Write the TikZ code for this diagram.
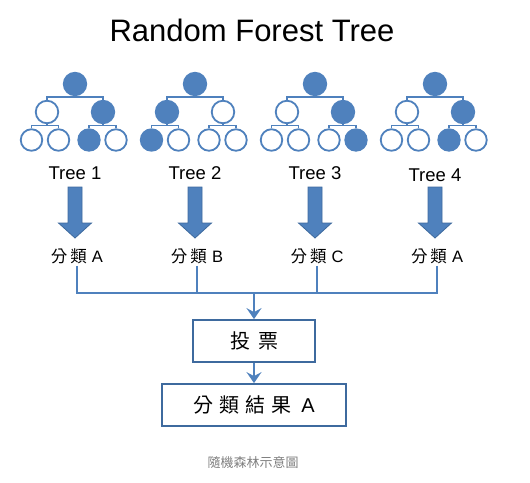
\documentclass[tikz,border=0pt]{standalone}
\usepackage{fontspec}
\setmainfont{Liberation Sans}
\newfontfamily\cjk{Noto Sans CJK TC}
\usetikzlibrary{arrows.meta}
\definecolor{ofblue}{HTML}{4F81BD}
\definecolor{ofdark}{HTML}{3E6A9E}
\definecolor{capgray}{HTML}{7F7F7F}
\tikzset{
  tnode/.style={circle, draw=ofblue, line width=1.8pt, inner sep=0pt, minimum size=21.5pt, fill=white},
  tfull/.style={tnode, fill=ofblue},
  tline/.style={draw=ofblue, line width=1.6pt},
  bigarrow/.style={fill=ofblue, draw=ofdark, line width=0.8pt, line join=miter},
  jline/.style={draw=ofblue, line width=2.6pt},
  jarrow/.style={jline, -{Stealth[length=11pt, width=15pt, inset=4pt]}},
  resbox/.style={draw=ofdark, line width=1.8pt, fill=white, inner sep=0pt},
  tlabel/.style={font=\fontsize{18.5}{20}\selectfont, inner sep=1pt},
  clabel/.style={font=\fontsize{16.5}{18}\selectfont, inner sep=1pt},
}
\begin{document}
\begin{tikzpicture}[x=1pt, y=-1pt]
\useasboundingbox (0,0) rectangle (530,482);
\node (title) at (252,30) {\fontsize{31}{34}\selectfont Random Forest Tree};
\foreach \i/\cx/\ty/\fa/\fb/\fc/\fd/\fe/\ff/\cl in {
  1/75/173/tnode/tfull/tnode/tnode/tfull/tnode/A,
  2/195/173/tfull/tnode/tfull/tnode/tnode/tnode/B,
  3/315/173/tnode/tfull/tnode/tnode/tnode/tfull/C,
  4/435/175/tnode/tfull/tnode/tnode/tfull/tnode/A}{
  \node[tfull, minimum size=22.5pt] (r\i) at (\cx,84) {};
  \node[\fa, minimum size=22.5pt] (a\i) at (\cx-28,112) {};
  \node[\fb, minimum size=22.5pt] (b\i) at (\cx+28,112) {};
  \node[\fc] (l\i) at (\cx-43.5,140) {};
  \node[\fd] (m\i) at (\cx-16.5,140) {};
  \node[\fe] (n\i) at (\cx+14,140) {};
  \node[\ff] (o\i) at (\cx+41,140) {};
  \coordinate (s\i) at (\cx,97);
  \coordinate (sa\i) at (\cx-29,125.5);
  \coordinate (sb\i) at (\cx+27.5,125.5);
  \draw[tline] (r\i.south) -- (s\i);
  \draw[tline] (a\i.north) |- (s\i) -| (b\i.north);
  \draw[tline] (a\i.south) -- (a\i.south |- sa\i);
  \draw[tline] (l\i.north) |- (sa\i) -| (m\i.north);
  \draw[tline] (b\i.south) -- (b\i.south |- sb\i);
  \draw[tline] (n\i.north) |- (sb\i) -| (o\i.north);
  \node[tlabel] (t\i) at (\cx,\ty) {Tree \i};
  \draw[bigarrow] (\cx-7,187) -- (\cx+7,187) -- (\cx+7,223) -- (\cx+16.5,223)
     -- (\cx,238) -- (\cx-16.5,223) -- (\cx-7,223) -- cycle;
  \node[clabel] (c\i) at (\cx+2,256) {{\cjk 分\hspace{3pt}類}\hspace{5pt}\cl};
}
\coordinate (j) at (254,293);
\foreach \i in {1,...,4}{
  \draw[jline] ([yshift=-1pt]c\i.south) |- (j);
}
\node[resbox, minimum width=122pt, minimum height=42pt] (vote) at (254,341)
  {\fontsize{20}{22}\selectfont\cjk 投\hspace{8pt}票};
\node[resbox, minimum width=184pt, minimum height=42pt] (res) at (254,405)
  {\fontsize{20}{22}\selectfont{\cjk 分\hspace{6pt}類\hspace{6pt}結\hspace{6pt}果}\hspace{10pt}A};
\draw[jarrow] (j) -- (vote.north);
\draw[jarrow] (vote.south) -- (res.north);
\node[text=capgray, font=\fontsize{13}{15}\selectfont\cjk] (cap) at (253,463) {隨機森林示意圖};
\end{tikzpicture}
\end{document}
